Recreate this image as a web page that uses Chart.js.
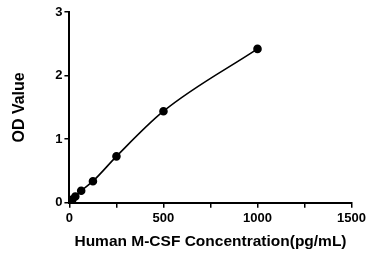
<!DOCTYPE html>
<html>
<head>
<meta charset="utf-8">
<script src="https://cdn.jsdelivr.net/npm/chart.js@4"></script>
<style>
  html, body { margin: 0; padding: 0; background: #fff; }
  #wrap { width: 369px; height: 260px; }
</style>
</head>
<body>
<div id="wrap"><canvas id="curveChart" width="369" height="260"></canvas></div>
<script>
// standard curve data
const concentrations = [0, 15.6, 31.25, 62.5, 125, 250, 500, 1000];
const odValues = [0.01, 0.05, 0.1, 0.19, 0.34, 0.73, 1.44, 2.42];
const xTicks = [0, 500, 1000, 1500];
const yTicks = [0, 1, 2, 3];

const fontFamily = "Arial, 'Liberation Sans', sans-serif";

document.addEventListener("DOMContentLoaded", () => {
    const ctx = document.getElementById("curveChart").getContext("2d");
    const points = concentrations.map((c, i) => ({ x: c, y: odValues[i] }));

    new Chart(ctx, {
        type: "scatter",
        data: {
            datasets: [{
                data: points,
                showLine: true,
                cubicInterpolationMode: "monotone",
                borderColor: "#000",
                backgroundColor: "#000",
                borderWidth: 1.6,
                pointRadius: 3.5,
                pointHoverRadius: 3.5
            }]
        },
        options: {
            responsive: false,
            animation: false,
            layout: { padding: { top: 12, right: 4, bottom: 9, left: 10 } },
            plugins: { legend: { display: false }, tooltip: { enabled: false } },
            scales: {
                x: {
                    type: "linear",
                    min: 0,
                    max: 1500,
                    border: { display: true, color: "#000", width: 2 },
                    grid: { drawOnChartArea: false, drawTicks: true, tickLength: 5, color: "#000", lineWidth: 1.5 },
                    ticks: {
                        stepSize: 250,
                        color: "#000",
                        padding: 3,
                        maxRotation: 0,
                        autoSkip: false,
                        font: { family: fontFamily, size: 13, weight: "bold" },
                        callback: v => xTicks.includes(v) ? String(v) : ""
                    },
                    title: {
                        display: true,
                        text: "Human M-CSF Concentration(pg/mL)",
                        color: "#000",
                        padding: { top: 3, bottom: 0 },
                        font: { family: fontFamily, size: 15.5, weight: "bold" }
                    }
                },
                y: {
                    type: "linear",
                    min: 0,
                    max: 3,
                    border: { display: true, color: "#000", width: 2 },
                    grid: { drawOnChartArea: false, drawTicks: true, tickLength: 5, color: "#000", lineWidth: 1.5 },
                    ticks: {
                        stepSize: 1,
                        color: "#000",
                        padding: 2,
                        font: { family: fontFamily, size: 13, weight: "bold" },
                        callback: v => yTicks.includes(v) ? String(v) : ""
                    },
                    title: {
                        display: true,
                        text: "OD Value",
                        color: "#000",
                        padding: { top: 0, bottom: 24 },
                        font: { family: fontFamily, size: 16, weight: "bold" }
                    }
                }
            }
        }
    });
});
</script>
</body>
</html>
